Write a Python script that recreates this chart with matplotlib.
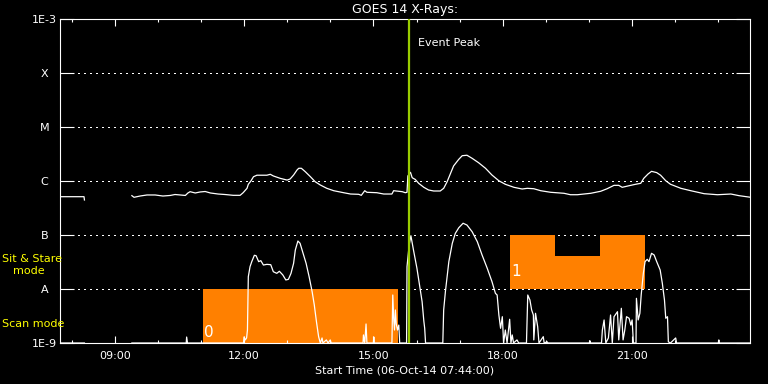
import matplotlib
matplotlib.use("Agg")
import matplotlib.pyplot as plt
import matplotlib.ticker as mticker
import numpy as np

# time in decimal hours (06-Oct-14), flux in W/m^2
start_hour = 7 + 44 / 60.0
end_hour = start_hour + 16
event_peak = 15.83

long_t = [7.76, 8.29, 8.30, np.nan, 9.40, 9.45, 9.59, 9.75, 9.94, 10.12, 10.29, 10.40,
          10.52, 10.64, 10.70, 10.75, 10.87, 10.98, 11.10, 11.22, 11.40, 11.56, 11.75,
          11.91, 11.98, 12.07, 12.10, 12.16, 12.22, 12.30, 12.53, 12.61, 12.68, 12.84,
          13.00, 13.07, 13.15, 13.23, 13.27, 13.33, 13.42, 13.54, 13.65, 13.77, 13.92,
          14.08, 14.31, 14.47, 14.66, 14.72, 14.80, 14.85, 15.08, 15.24, 15.43, 15.47,
          15.67, 15.74, 15.78, 15.80, 15.86, 15.90, 15.97, 16.05, 16.17, 16.28, 16.40,
          16.55, 16.63, 16.71, 16.79, 16.86, 16.98, 17.06, 17.17, 17.29, 17.44, 17.60,
          17.75, 17.91, 18.06, 18.26, 18.45, 18.57, 18.72, 18.88, 19.11, 19.42, 19.57,
          19.73, 20.04, 20.27, 20.42, 20.58, 20.69, 20.77, 20.93, 21.08, 21.20, 21.27,
          21.37, 21.45, 21.57, 21.66, 21.78, 21.89, 22.13, 22.36, 22.67, 22.98, 23.29,
          23.48, 23.75]
long_flux = [5.12e-7, 5.12e-7, 4.45e-7, np.nan, 5.35e-7, 4.99e-7, 5.27e-7, 5.51e-7, 5.51e-7,
             5.27e-7, 5.4e-7, 5.62e-7, 5.51e-7, 5.4e-7, 6.0e-7, 6.34e-7, 6.0e-7, 6.26e-7,
             6.39e-7, 6.0e-7, 5.74e-7, 5.62e-7, 5.43e-7, 5.43e-7, 6.07e-7, 7.32e-7, 8.69e-7,
             1.0e-6, 1.20e-6, 1.28e-6, 1.28e-6, 1.33e-6, 1.24e-6, 1.12e-6, 1.04e-6, 1.09e-6,
             1.29e-6, 1.60e-6, 1.72e-6, 1.72e-6, 1.49e-6, 1.20e-6, 9.7e-7, 8.43e-7, 7.32e-7,
             6.61e-7, 6.07e-7, 5.74e-7, 5.67e-7, 5.43e-7, 6.61e-7, 6.18e-7, 6.07e-7, 5.74e-7,
             5.74e-7, 6.61e-7, 6.34e-7, 6.07e-7, 6.18e-7, 1.24e-6, 1.45e-6, 1.15e-6, 1.07e-6,
             9.06e-7, 7.64e-7, 6.81e-7, 6.53e-7, 6.53e-7, 7.32e-7, 9.7e-7, 1.39e-6, 1.90e-6,
             2.52e-6, 2.94e-6, 3.0e-6, 2.63e-6, 2.18e-6, 1.72e-6, 1.29e-6, 1.01e-6, 8.69e-7,
             7.64e-7, 7.11e-7, 7.32e-7, 7.19e-7, 6.61e-7, 6.18e-7, 5.92e-7, 5.57e-7, 5.57e-7,
             5.92e-7, 6.45e-7, 7.19e-7, 8.31e-7, 8.31e-7, 7.64e-7, 8.18e-7, 8.69e-7, 9.06e-7,
             1.12e-6, 1.35e-6, 1.51e-6, 1.43e-6, 1.28e-6, 1.01e-6, 8.69e-7, 7.32e-7, 6.61e-7,
             5.82e-7, 5.57e-7, 5.74e-7, 5.35e-7, 4.99e-7]

short_t = [7.76, 8.30, np.nan, 9.40, 10.66, 10.67, 10.69, 11.99, 12.00, 12.03, 12.06, 12.08,
           12.10, 12.14, 12.18, 12.24, 12.28, 12.34, 12.39, 12.45, 12.53, 12.62, 12.68,
           12.76, 12.82, 12.90, 12.97, 13.03, 13.09, 13.15, 13.19, 13.25, 13.30, 13.37,
           13.44, 13.51, 13.58, 13.63, 13.68, 13.73, 13.77, 13.81, 13.83, 13.91, 13.95,
           14.00, 14.02, 14.76, 14.77, 14.80, 14.83, 14.85, 15.00, 15.01, 15.02, 15.43,
           15.45, 15.47, 15.49, 15.51, 15.53, 15.56, 15.59, 15.61, 15.77, 15.78, 15.83,
           15.87, 15.93, 16.01, 16.07, 16.13, 16.17, 16.19, 16.21, 16.61, 16.63, 16.67,
           16.75, 16.83, 16.90, 16.98, 17.08, 17.17, 17.29, 17.41, 17.52, 17.64, 17.75,
           17.83, 17.87, 17.91, 17.95, 17.99, 18.02, 18.06, 18.10, 18.16, 18.19, 18.22,
           18.25, 18.33, 18.37, 18.55, 18.58, 18.63, 18.67, 18.71, 18.72, 18.76, 18.81,
           18.84, 18.94, 18.96, 19.03, 19.05, 20.01, 20.02, 20.03, 20.29, 20.31, 20.35,
           20.39, 20.45, 20.50, 20.54, 20.58, 20.66, 20.69, 20.75, 20.79, 20.83, 20.87,
           20.93, 20.97, 21.00, 21.03, 21.09, 21.10, 21.14, 21.18, 21.21, 21.26, 21.30,
           21.35, 21.39, 21.45, 21.51, 21.57, 21.65, 21.70, 21.75, 21.78, 21.82, 21.84,
           21.89, 22.01, 22.03, 23.00, 23.01, 23.02, 23.75]
short_flux = [1e-9, 1e-9, np.nan, 1e-9, 1e-9, 1.29e-9, 1e-9, 1e-9, 1.29e-9, 1.14e-9, 1.24e-9,
              1.74e-9, 1.69e-8, 2.59e-8, 3.21e-8, 4.21e-8, 4.14e-8, 3.21e-8, 3.35e-8, 2.78e-8,
              2.86e-8, 2.82e-8, 2.09e-8, 1.95e-8, 2.13e-8, 1.82e-8, 1.47e-8, 1.51e-8, 1.95e-8,
              2.99e-8, 5.27e-8, 7.74e-8, 7.02e-8, 4.58e-8, 2.99e-8, 1.69e-8, 8.91e-9, 5.06e-9,
              2.48e-9, 1.31e-9, 1e-9, 1.24e-9, 1e-9, 1.14e-9, 1e-9, 1.14e-9, 1e-9, 1e-9,
              1.41e-9, 1e-9, 2.25e-9, 1e-9, 1e-9, 1.29e-9, 1e-9, 1e-9, 7.74e-9, 2.90e-9,
              1.74e-9, 4.09e-9, 2.25e-9, 1.74e-9, 2.15e-9, 1e-9, 1e-9, 2.59e-8, 6.53e-8,
              9.71e-8, 5.27e-8, 2.42e-8, 1.19e-8, 5.82e-9, 2.55e-9, 1.87e-9, 1e-9, 1e-9,
              4.09e-9, 8.91e-9, 3.21e-8, 7.02e-8, 1.07e-7, 1.36e-7, 1.65e-7, 1.53e-7, 1.15e-7,
              7.52e-8, 4.27e-8, 2.42e-8, 1.37e-8, 8.32e-9, 7.74e-9, 3.30e-9, 1.87e-9, 3.07e-9,
              1e-9, 1.74e-9, 1e-9, 2.75e-9, 1e-9, 1.41e-9, 1e-9, 1.14e-9, 1e-9, 1e-9, 7.74e-9,
              6.26e-9, 4.09e-9, 3.30e-9, 1.14e-9, 3.55e-9, 2.0e-9, 1e-9, 1.31e-9, 1e-9, 1.05e-9,
              1e-9, 1e-9, 1.1e-9, 1e-9, 1e-9, 1.74e-9, 2.67e-9, 1e-9, 1.24e-9, 3.30e-9, 1e-9,
              3.07e-9, 3.80e-9, 1.14e-9, 4.39e-9, 1.14e-9, 1.74e-9, 3.07e-9, 2.87e-9, 2.15e-9,
              2.67e-9, 1e-9, 1e-9, 6.72e-9, 2.67e-9, 3.55e-9, 7.74e-9, 1.95e-8, 3.21e-8,
              3.55e-8, 3.21e-8, 4.58e-8, 4.27e-8, 3.21e-8, 2.25e-8, 1.28e-8, 6.26e-9, 2.87e-9,
              3.07e-9, 1.05e-9, 1e-9, 1.24e-9, 1e-9, 1e-9, 1.14e-9, 1e-9, 1e-9]

# observing modes
scan_t = [11.05, 15.58]
stare_t = [18.16, 19.22, 20.25, 21.31]
stare_top = [1e-7, 4.14e-8, 1e-7, 1e-7]

class_levels = [1e-8, 1e-7, 1e-6, 1e-5, 1e-4]
ytick_vals = [1e-9, 1e-8, 1e-7, 1e-6, 1e-5, 1e-4, 1e-3]
ytick_labels = ["1E-9", "A", "B", "C", "M", "X", "1E-3"]

plt.rcParams['font.family'] = 'DejaVu Sans'
fig = plt.figure(figsize=(7.68, 3.84), dpi=100, facecolor='black')
ax = fig.add_axes([60/768, 41/384, 690/768, 324/384], facecolor='black')

# dotted flare-class lines
for lev in class_levels:
    ax.axhline(lev, color='white', lw=0.72, ls=(0, (1.4, 4.6)), zorder=0.5,
               antialiased=False)

orange = '#FF8000'
ax.fill_between(scan_t, 1e-9, 1e-8, color=orange, lw=0, zorder=1)
ax.fill_between(stare_t, 1e-8, stare_top, step='post', color=orange, lw=0, zorder=1)

ax.plot(long_t, long_flux, color='white', lw=0.9, zorder=2)
ax.plot(short_t, short_flux, color='white', lw=0.9, zorder=2)

ax.axvline(event_peak, color='#99CC00', lw=1.6, zorder=3)
ax.annotate("Event Peak", xy=(event_peak, 0.926), xycoords=('data', 'axes fraction'),
            xytext=(6.5, 0), textcoords='offset points', color='white', fontsize=8,
            va='center', ha='left')

ax.annotate("0", xy=(scan_t[0], 1.55e-9), xytext=(1, 0), textcoords='offset points',
            color='white', fontsize=11, va='center', ha='left', zorder=4)
ax.annotate("1", xy=(stare_t[0], 2.1e-8), xytext=(1, 0), textcoords='offset points',
            color='white', fontsize=11, va='center', ha='left', zorder=4)

ax.set_yscale('log')
ax.set_ylim(1e-9, 1e-3)
ax.set_xlim(start_hour, end_hour)

ax.set_yticks(ytick_vals)
ax.set_yticklabels(ytick_labels)
ax.yaxis.set_minor_locator(mticker.NullLocator())
ax.tick_params(axis='y', which='major', direction='in', length=10, width=0.8,
               left=True, right=True, colors='white', labelsize=8, pad=11)
for lab in ax.get_yticklabels():
    lab.set_ha('center')

ax.xaxis.set_major_locator(mticker.FixedLocator([9, 12, 15, 18, 21]))
ax.xaxis.set_minor_locator(mticker.FixedLocator(range(8, 24)))
ax.xaxis.set_major_formatter(mticker.FuncFormatter(lambda h, p: "%02d:00" % int(round(h))))
ax.tick_params(axis='x', which='major', direction='in', length=5, width=0.8,
               top=True, bottom=True, colors='white', labelsize=8, pad=6)
ax.tick_params(axis='x', which='minor', direction='in', length=2.5, width=0.8,
               top=True, bottom=True, colors='white')

for sp in ax.spines.values():
    sp.set_color('white')
    sp.set_linewidth(0.8)

ax.set_title("GOES 14 X-Rays:", color='white', fontsize=9, pad=4)
ax.set_xlabel("Start Time (06-Oct-14 07:44:00)", color='white', fontsize=8, labelpad=3)

fig.text(2/768, 1 - 259/384, "Sit & Stare", color='yellow', fontsize=8, va='center', ha='left')
fig.text(13/768, 1 - 271/384, "mode", color='yellow', fontsize=8, va='center', ha='left')
fig.text(2/768, 1 - 324/384, "Scan mode", color='yellow', fontsize=8, va='center', ha='left')

fig.savefig("out.png", dpi=100, facecolor='black')
